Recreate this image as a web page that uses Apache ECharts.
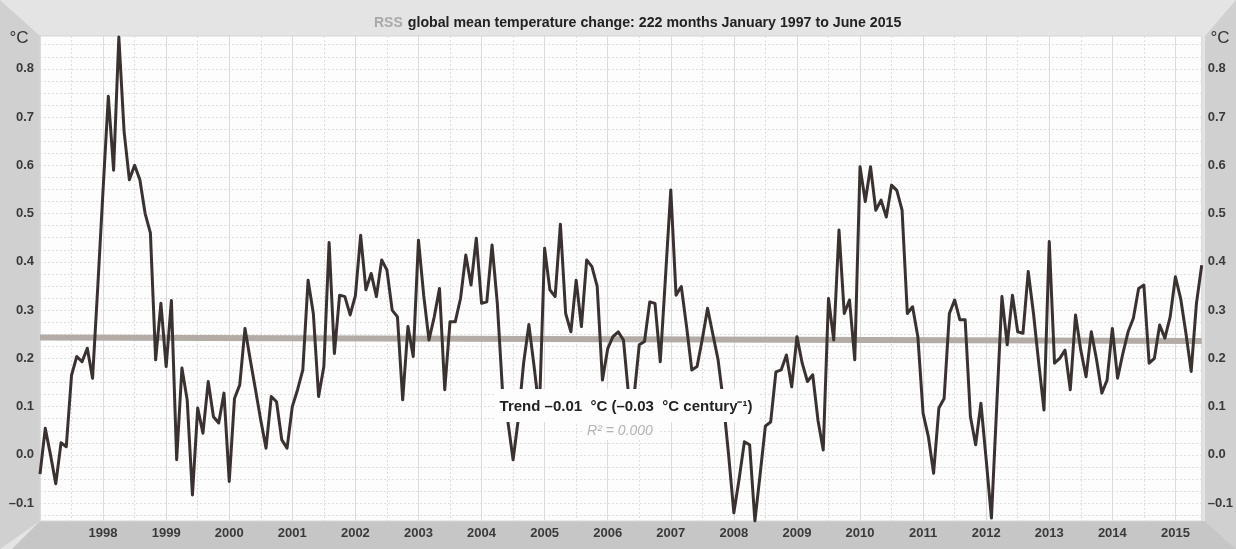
<!DOCTYPE html>
<html>
<head>
<meta charset="utf-8">
<script src="https://cdn.jsdelivr.net/npm/echarts@6/dist/echarts.min.js"></script>
<style>
  html, body { margin: 0; padding: 0; background: #e4e4e4; }
  #chart { width: 1236px; height: 549px; }
</style>
</head>
<body>
<div id="chart"></div>
<script>
// RSS monthly anomalies, Jan 1997 .. Jun 2015 (222 months)
const anomalies = [
  -0.04, 0.055, 0.0, -0.06, 0.025, 0.017, 0.165, 0.204, 0.193, 0.221, 0.159, 0.35,
  0.55, 0.743, 0.59, 0.866, 0.67, 0.57, 0.60, 0.57, 0.50, 0.46, 0.197, 0.314,
  0.183, 0.32, -0.01, 0.18, 0.114, -0.083, 0.097, 0.045, 0.152, 0.079, 0.066, 0.128,
  -0.055, 0.117, 0.145, 0.262, 0.197, 0.135, 0.072, 0.014, 0.121, 0.110, 0.031, 0.014,
  0.10, 0.135, 0.176, 0.362, 0.293, 0.121, 0.183, 0.44, 0.21, 0.331, 0.328, 0.29,
  0.33, 0.455, 0.342, 0.376, 0.328, 0.404, 0.383, 0.30, 0.286, 0.114, 0.266, 0.204,
  0.445, 0.33, 0.238, 0.286, 0.345, 0.135, 0.276, 0.276, 0.324, 0.414, 0.352, 0.449,
  0.314, 0.317, 0.435, 0.314, 0.13, 0.07, -0.01, 0.075, 0.19, 0.27, 0.183, 0.09,
  0.428, 0.342, 0.328, 0.478, 0.293, 0.255, 0.362, 0.266, 0.404, 0.39, 0.349, 0.155,
  0.22, 0.245, 0.255, 0.238, 0.12, 0.12, 0.228, 0.235, 0.317, 0.314, 0.193, 0.37,
  0.549, 0.331, 0.349, 0.266, 0.176, 0.183, 0.24, 0.304, 0.25, 0.197, 0.11, 0.0,
  -0.12, -0.05, 0.027, 0.021, -0.137, -0.04, 0.06, 0.068, 0.172, 0.176, 0.207, 0.141,
  0.245, 0.19, 0.152, 0.166, 0.072, 0.01, 0.324, 0.238, 0.466, 0.293, 0.321, 0.197,
  0.597, 0.525, 0.597, 0.507, 0.528, 0.493, 0.559, 0.548, 0.507, 0.293, 0.307, 0.245,
  0.086, 0.038, -0.038, 0.097, 0.117, 0.293, 0.321, 0.28, 0.28, 0.079, 0.021, 0.107,
  -0.01, -0.131, 0.1, 0.328, 0.228, 0.331, 0.255, 0.252, 0.38, 0.293, 0.19, 0.093,
  0.442, 0.19, 0.20, 0.217, 0.135, 0.290, 0.217, 0.162, 0.255, 0.197, 0.128, 0.155,
  0.262, 0.159, 0.21, 0.255, 0.283, 0.345, 0.352, 0.19, 0.20, 0.269, 0.242, 0.286,
  0.369, 0.324, 0.252, 0.173, 0.314, 0.393
]
// least-squares trend, value at first and last month
const trendEnds = [0.243, 0.236]
const yTicks = [-0.1, 0.0, 0.1, 0.2, 0.3, 0.4, 0.5, 0.6, 0.7, 0.8]
const yGridLines = []
for (let v = -0.125; v < 0.87; v += 0.025) yGridLines.push(+v.toFixed(3))

const months = []
for (let y = 1997; months.length < anomalies.length; y++) {
  for (let m = 1; m <= 12 && months.length < anomalies.length; m++) {
    months.push(y + "-" + (m < 10 ? "0" + m : m))
  }
}

const FONT = "Liberation Sans"
const fmtY = (v) => v.toFixed(1).replace("-", "–")

const myChart = echarts.init(document.getElementById("chart"))
myChart.setOption({
  backgroundColor: "#e4e4e4",
  animation: false,
  textStyle: { fontFamily: FONT },
  title: {
    left: 369,
    top: 9,
    text: "{a|RSS} {b|global mean temperature change: 222 months January 1997 to June 2015}",
    textStyle: {
      rich: {
        a: { fontFamily: FONT, fontSize: 14, fontWeight: "bold", color: "#a9a9a9" },
        b: { fontFamily: FONT, fontSize: 14.2, fontWeight: "bold", color: "#222" },
      },
    },
  },
  grid: {
    left: 40,
    right: 31,
    top: 36,
    bottom: 28,
    show: true,
    backgroundColor: "#fdfdfd",
    borderColor: "#d6d6d6",
    borderWidth: 1,
  },
  xAxis: [
    {
      type: "category",
      data: months,
      boundaryGap: false,
      axisLine: { show: false },
      axisTick: { show: false },
      axisLabel: {
        interval: (idx) => idx > 0 && idx % 12 === 0,
        formatter: (v) => v.slice(0, 4),
        fontFamily: FONT,
        fontSize: 13,
        fontWeight: "bold",
        color: "#3a3a3a",
        margin: 6,
      },
      splitLine: {
        show: true,
        interval: (idx) => idx % 12 === 0,
        lineStyle: { color: "#dcdcdc", width: 1 },
      },
    },
    {
      type: "category",
      data: months,
      boundaryGap: false,
      gridIndex: 0,
      position: "bottom",
      axisLine: { show: false },
      axisTick: { show: false },
      axisLabel: { show: false },
      splitLine: {
        show: true,
        interval: (idx) => idx % 12 === 6,
        lineStyle: { color: "#dedede", width: 1, type: [2, 2] },
      },
    },
  ],
  yAxis: [
    {
      type: "value",
      min: -0.137,
      max: 0.868,
      axisLine: { show: false },
      axisTick: { show: false, customValues: yGridLines },
      axisLabel: {
        customValues: yTicks,
        formatter: fmtY,
        fontFamily: FONT,
        fontSize: 13,
        fontWeight: "bold",
        color: "#3a3a3a",
        margin: 6,
      },
      splitLine: {
        show: true,
        lineStyle: { color: "#e0e0e0", width: 1, type: [2, 2] },
      },
    },
    {
      type: "value",
      min: -0.137,
      max: 0.868,
      position: "right",
      axisLine: { show: false },
      axisTick: { show: false },
      axisLabel: {
        customValues: yTicks,
        formatter: fmtY,
        fontFamily: FONT,
        fontSize: 13,
        fontWeight: "bold",
        color: "#3a3a3a",
        margin: 6,
      },
      splitLine: { show: false },
    },
  ],
  graphic: [
    { type: "polygon", silent: true, z: -1, shape: { points: [[0, 0], [40, 36], [40, 521], [0, 549]] }, style: { fill: "#d0d0d0" } },
    { type: "polygon", silent: true, z: -1, shape: { points: [[1236, 0], [1236, 549], [1205, 521], [1205, 36]] }, style: { fill: "#d0d0d0" } },
    { type: "polygon", silent: true, z: -1, shape: { points: [[12, 549], [40, 521], [1205, 521], [1236, 549]] }, style: { fill: "#c6c6c6" } },
    { type: "text", silent: true, z: 60, x: 19, y: 38, style: { text: "°C", font: '17px "Liberation Sans"', fill: "#333", textAlign: "center", textVerticalAlign: "middle", align: "center", verticalAlign: "middle" } },
    { type: "text", silent: true, z: 60, x: 1220, y: 38, style: { text: "°C", font: '17px "Liberation Sans"', fill: "#333", textAlign: "center", textVerticalAlign: "middle", align: "center", verticalAlign: "middle" } },
    { type: "rect", silent: true, z: 50, shape: { x: 495, y: 389, width: 264, height: 33 }, style: { fill: "#fdfdfd" } },
    { type: "rect", silent: true, z: 50, shape: { x: 582, y: 421, width: 78, height: 19 }, style: { fill: "#fdfdfd" } },
    { type: "text", silent: true, z: 60, x: 626, y: 407, style: { text: "Trend –0.01  °C (–0.03  °C century⁻¹)", font: 'bold 15px "Liberation Sans"', fill: "#222", textAlign: "center", textVerticalAlign: "middle", align: "center", verticalAlign: "middle" } },
    { type: "text", silent: true, z: 60, x: 620, y: 431, style: { text: "R² = 0.000", font: 'italic 14px "Liberation Sans"', fill: "#b4b4b4", textAlign: "center", textVerticalAlign: "middle", align: "center", verticalAlign: "middle" } },
  ],
  series: [
    {
      name: "Trend",
      type: "line",
      data: [[months[0], trendEnds[0]], [months[months.length - 1], trendEnds[1]]],
      showSymbol: false,
      lineStyle: { color: "#b3aca6", width: 6 },
      z: 2,
      silent: true,
    },
    {
      name: "RSS",
      type: "line",
      data: anomalies,
      showSymbol: false,
      lineStyle: { color: "#3a3230", width: 3, join: "round" },
      z: 3,
      silent: true,
    },
  ],
})
window.addEventListener("resize", function () {
  myChart.resize()
})
</script>
</body>
</html>
